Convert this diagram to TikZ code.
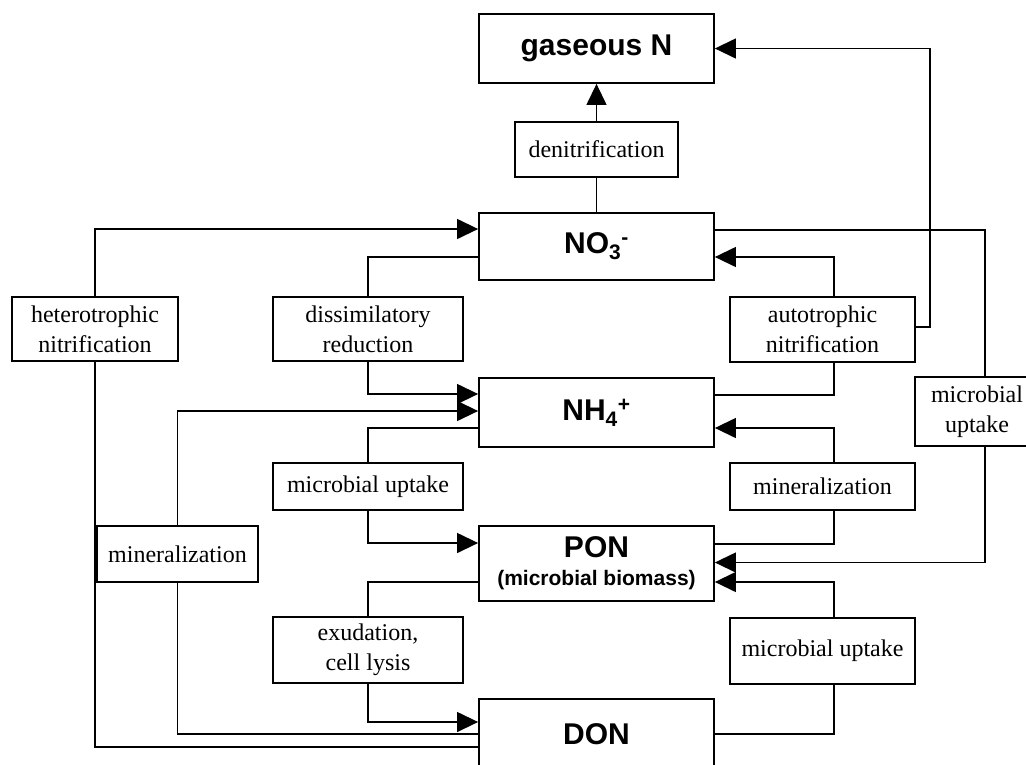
\documentclass[tikz,border=0pt]{standalone}
\usepackage{fontspec}
\setmainfont{Liberation Serif}
\setsansfont{Liberation Sans}
\usetikzlibrary{arrows.meta, positioning, calc}

% ion with sub- and superscript
\newcommand{\ionlab}[3]{#1\textsubscript{#2}\textsuperscript{#3}}

\begin{document}
\begin{tikzpicture}[
    x=1pt, y=-1pt,
    >={Triangle[length=21pt, width=20pt]},
    pool/.style={draw, line width=1.8pt, inner sep=0pt, minimum width=235pt, align=center,
                 font=\sffamily\bfseries\fontsize{30}{34}\selectfont},
    proc/.style={draw, line width=1.8pt, inner sep=0pt, align=center,
                 font=\fontsize{24}{30}\selectfont},
    link/.style={line width=1.3pt},
]
\useasboundingbox (0,0) rectangle (1026,764);
\clip (0,0) rectangle (1026,764);

% nitrogen pools
\node[pool, minimum height=69pt] (gas) at (596.5,48.5)  {gaseous N};
\node[pool, minimum height=67pt] (NO3) at (596.5,246.5) {\ionlab{NO}{3}{-}};
\node[pool, minimum height=69pt] (NH4) at (596.5,412.5) {\ionlab{NH}{4}{+}};
\node[pool, minimum height=75pt] (PON) at (596.5,563.5)
   {PON\\[-6pt]{\fontsize{21}{25}\selectfont (microbial biomass)}};
\node[pool, minimum height=70pt] (DON) at (596.5,734)   {DON};

% processes
\node[proc, minimum width=163pt, minimum height=55pt] (den)  at (596.5,149.5) {denitrification};
\node[proc, minimum width=166pt, minimum height=64pt] (het)  at (95,329)    {heterotrophic\\nitrification};
\node[proc, minimum width=190pt, minimum height=64pt] (dis)  at (368,329)   {dissimilatory\\reduction};
\node[proc, minimum width=185pt, minimum height=65pt] (aut)  at (822.5,329.5) {autotrophic\\nitrification};
\node[proc, minimum width=124pt, minimum height=69pt] (mur)  at (977,411.5) {microbial\\uptake};
\node[proc, minimum width=190pt, minimum height=47pt] (mu1)  at (368,486.5) {microbial uptake};
\node[proc, minimum width=185pt, minimum height=47pt] (min2) at (822.5,486.5) {mineralization};
\node[proc, minimum width=161pt, minimum height=56pt] (min1) at (177.5,554) {mineralization};
\node[proc, minimum width=190pt, minimum height=66pt] (exu)  at (368,650)   {exudation,\\cell lysis};
\node[proc, minimum width=185pt, minimum height=66pt] (mu3)  at (822.5,651) {microbial uptake};

\coordinate (gasr) at (930,48.5);

% denitrification
\draw[link] (NO3.north) -- (den.south);
\draw[link, ->] (den.north) -- (gas.south);

% heterotrophic nitrification
\draw[link] ([yshift=-13pt]DON.west) -| (het.south);
\draw[link, ->] (het.north) |- ([yshift=17.5pt]NO3.west);

% dissimilatory reduction
\draw[link] ([yshift=-10.5pt]NO3.west) -| (dis.north);
\draw[link, ->] (dis.south) |- ([yshift=18.5pt]NH4.west);

% left mineralization
\draw[link] (DON.west) -| (min1.south);
\draw[link, ->] (min1.north) |- ([yshift=1.5pt]NH4.west);

% microbial uptake of NH4
\draw[link] ([yshift=-15.5pt]NH4.west) -| (mu1.north);
\draw[link, ->] (mu1.south) |- ([yshift=20.5pt]PON.west);

% exudation
\draw[link] ([yshift=-18.5pt]PON.west) -| (exu.north);
\draw[link, ->] (exu.south) |- ([yshift=12pt]DON.west);

% autotrophic nitrification
\draw[link] ([yshift=17.5pt]NH4.east) -| ([xshift=11.5pt]aut.south);
\draw[link, ->] ([xshift=11.5pt]aut.north) |- ([yshift=-10.5pt]NO3.east);
\draw[link, ->] ([yshift=2.5pt]aut.east) -| (gasr) -- (gas.east);

% right mineralization
\draw[link] ([yshift=19.5pt]PON.east) -| ([xshift=11.5pt]min2.south);
\draw[link, ->] ([xshift=11.5pt]min2.north) |- ([yshift=-15.5pt]NH4.east);

% microbial uptake of DON
\draw[link] (DON.east) -| ([xshift=11.5pt]mu3.south);
\draw[link, ->] ([xshift=11.5pt]mu3.north) |- ([yshift=-18.5pt]PON.east);

% microbial uptake of NO3
\draw[link] ([yshift=16.5pt]NO3.east) -| ([xshift=8pt]mur.north);
\draw[link, ->] ([xshift=8pt]mur.south) |- ([yshift=1pt]PON.east);

\end{tikzpicture}
\end{document}
